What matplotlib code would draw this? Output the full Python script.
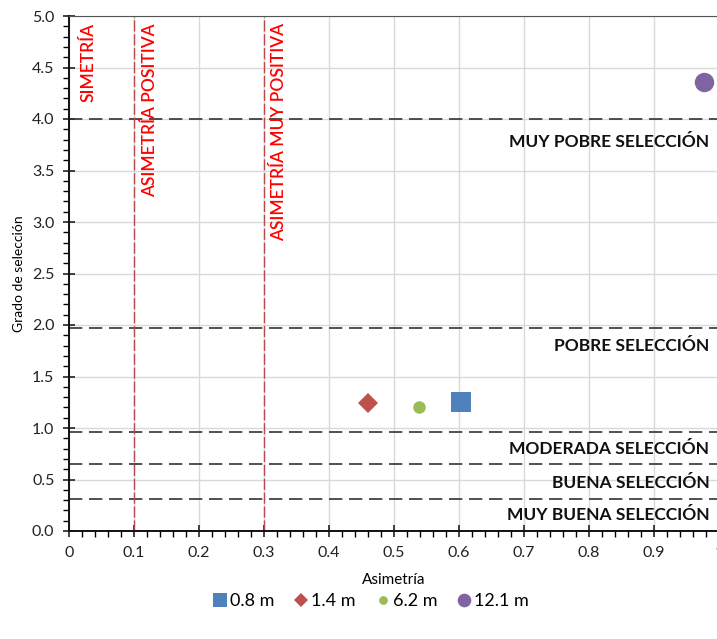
import matplotlib.pyplot as plt
from matplotlib.ticker import MultipleLocator, FuncFormatter

plt.rcParams['font.family'] = ['Lato', 'DejaVu Sans']

# muestras: asimetria vs grado de seleccion
labels = ['0.8 m', '1.4 m', '6.2 m', '12.1 m']
asimetria = [0.603, 0.46, 0.538, 0.977]
seleccion = [1.252, 1.243, 1.204, 4.36]
markers = ['s', 'D', 'o', 'o']
sizes = [15, 10, 9, 14]
colors = ['#4F81BD', '#C0504D', '#9BBB59', '#8064A2']

# limites de clasificacion
limites_sel = [4.0, 1.97, 0.96, 0.65, 0.31]
nombres_sel = ['MUY POBRE SELECCIÓN', 'POBRE SELECCIÓN', 'MODERADA SELECCIÓN',
               'BUENA SELECCIÓN', 'MUY BUENA SELECCIÓN']
pos_sel = [3.78, 1.80, 0.80, 0.47, 0.16]
limites_asim = [0.1, 0.3]
nombres_asim = ['SIMETRÍA', 'ASIMETRÍA POSITIVA', 'ASIMETRÍA MUY POSITIVA']
pos_asim = [0.030, 0.124, 0.323]

fig = plt.figure(figsize=(7.17, 6.39), dpi=100)
ax = fig.add_axes([69/717, 1-531/639, 650/717, 515/639])

ax.set_xlim(0, 1)
ax.set_ylim(0, 5)
ax.xaxis.set_major_locator(MultipleLocator(0.1))
ax.xaxis.set_minor_locator(MultipleLocator(0.02))
ax.yaxis.set_major_locator(MultipleLocator(0.5))
ax.yaxis.set_minor_locator(MultipleLocator(0.1))
ax.xaxis.set_major_formatter(FuncFormatter(lambda v, p: '%g' % round(v, 2)))
ax.yaxis.set_major_formatter(FuncFormatter(lambda v, p: '%.1f' % v))
ax.grid(True, which='major', color='#d9d9d9', lw=1)
ax.set_axisbelow(True)

ax.tick_params(which='major', direction='inout', length=9, width=1.2,
               labelsize=11.5, colors='#222222', pad=6)
ax.tick_params(which='minor', direction='out', length=4, width=1)
for s in ['left', 'bottom']:
    ax.spines[s].set_linewidth(1.4)
    ax.spines[s].set_color('#111111')
ax.spines['top'].set_color('#555555')
ax.spines['right'].set_visible(False)

for y in limites_sel:
    ax.axhline(y, color='#333333', lw=1.2, ls=(0, (8, 4)), zorder=1)
for x in limites_asim:
    ax.axvline(x, color='#B94A4A', lw=1.0, ls=(0, (8, 2)), zorder=1)

for nombre, y in zip(nombres_sel, pos_sel):
    ax.text(0.985, y, nombre, ha='right', va='center', fontsize=12.5,
            fontweight='bold', color='#111111')
for nombre, x in zip(nombres_asim, pos_asim):
    ax.text(x, 4.93, nombre, rotation=90, ha='center', va='top',
            fontsize=12.5, fontweight='semibold', color='#FF0000')

for xi, yi, m, s, c, lab in zip(asimetria, seleccion, markers, sizes, colors, labels):
    ax.plot(xi, yi, marker=m, ms=s, color=c, ls='none', label=lab,
            markeredgewidth=0, clip_on=False, zorder=3)

ax.set_xlabel('Asimetría', fontsize=11, labelpad=10)
ax.set_ylabel('Grado de selección', fontsize=10, labelpad=5)

leg = fig.legend(loc='center', bbox_to_anchor=(370/717, 1-601/639), ncol=4,
                 frameon=False, fontsize=13, handletextpad=0.05,
                 columnspacing=1.0, markerscale=0.7, handlelength=1.0)

fig.savefig('out.png', dpi=100)
